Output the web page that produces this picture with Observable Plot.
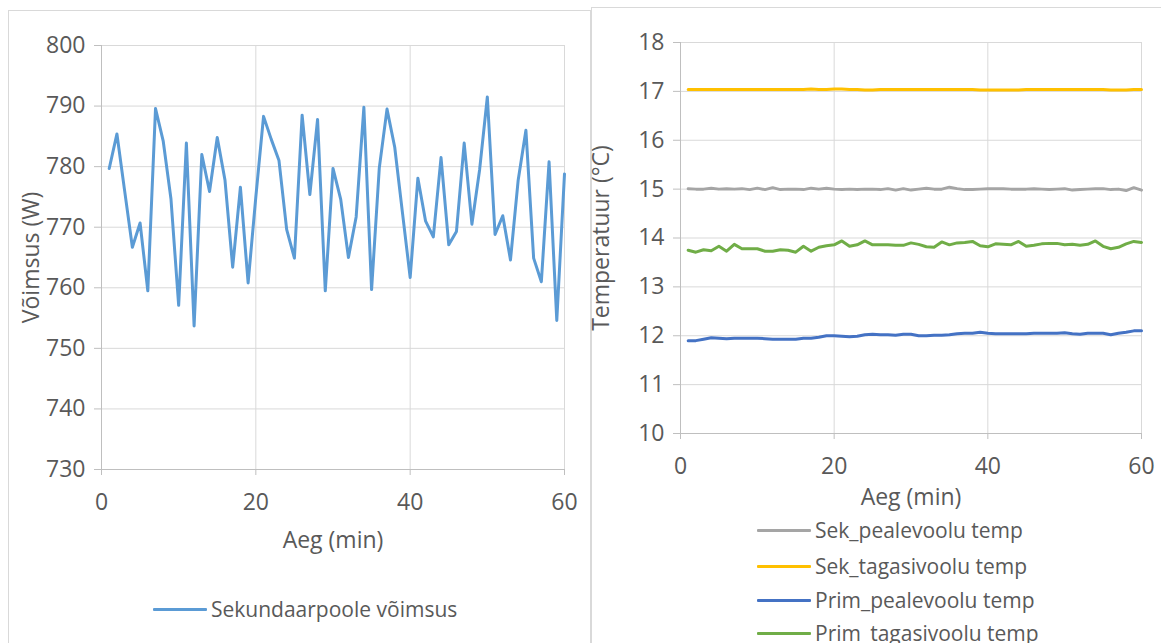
<!DOCTYPE html>
<html>
<head>
<meta charset="utf-8">
<script src="https://cdn.jsdelivr.net/npm/d3@7"></script>
<script src="https://cdn.jsdelivr.net/npm/@observablehq/plot@0.6"></script>
<style>
  html, body { margin: 0; padding: 0; background: #fff; }
  body { width: 1161px; height: 643px; overflow: hidden; position: relative; font-family: "Open Sans", sans-serif; color: #595959; }
  .panel { position: absolute; border: 1px solid #d9d9d9; background: #fff; box-sizing: border-box; }
  #p1 { left: 8px; top: 10px; width: 583px; height: 660px; }
  #p2 { left: 591px; top: 7px; width: 600px; height: 660px; }
  .chart { position: absolute; top: 0; }
  #c1 { left: 0; }
  #c2 { left: 590px; }
  .legend { position: absolute; font-size: 21px; color: #595959; }
  .item { position: absolute; display: flex; align-items: center; white-space: nowrap; height: 30px; }
  .swatch { width: 54px; height: 3px; margin-right: 4px; border-radius: 1px; }
</style>
</head>
<body>
<div class="panel" id="p1"></div>
<div class="panel" id="p2"></div>
<div class="chart" id="c1"></div>
<div class="chart" id="c2"></div>
<div class="legend" id="leg1"></div>
<div class="legend" id="leg2"></div>
<script>
// ---------- data ----------
const minutes = [1,2,3,4,5,6,7,8,9,10,11,12,13,14,15,16,17,18,19,20,
  21,22,23,24,25,26,27,28,29,30,31,32,33,34,35,36,37,38,39,40,
  41,42,43,44,45,46,47,48,49,50,51,52,53,54,55,56,57,58,59,60];

const powerW = [779.7,785.4,776.0,766.7,770.7,759.5,789.6,784.2,774.7,757.1,
  783.9,753.7,782.0,775.9,784.8,777.8,763.4,776.6,760.8,775.0,
  788.3,784.5,781.0,769.6,764.9,788.5,775.4,787.8,759.5,779.7,
  774.6,765.0,771.7,789.8,759.7,779.8,789.5,783.2,772.4,761.7,
  778.1,771.0,768.4,781.5,767.1,769.3,783.9,770.5,779.5,791.5,
  768.8,771.9,764.6,777.8,786.0,764.9,761.0,780.8,754.6,778.8];

const sekPealevoolu = [15.01,15.00,15.00,15.02,15.00,15.01,15.00,15.01,14.99,15.02,
  14.99,15.03,14.99,15.00,15.00,14.99,15.02,15.00,15.02,15.00,
  14.99,15.00,14.99,15.00,15.00,14.99,15.01,14.98,15.01,14.98,
  15.00,15.02,15.00,15.00,15.04,15.01,14.99,14.99,15.00,15.01,
  15.01,15.01,15.00,15.00,15.00,15.01,15.00,14.99,15.00,15.01,
  14.98,14.99,15.00,15.01,15.01,14.99,15.00,14.97,15.03,14.98];

const sekTagasivoolu = [17.04,17.04,17.04,17.04,17.04,17.04,17.04,17.04,17.04,17.04,
  17.04,17.04,17.04,17.04,17.04,17.04,17.05,17.04,17.04,17.05,
  17.05,17.04,17.04,17.03,17.03,17.04,17.04,17.04,17.04,17.04,
  17.04,17.04,17.04,17.04,17.04,17.04,17.04,17.04,17.03,17.03,
  17.03,17.03,17.03,17.03,17.04,17.04,17.04,17.04,17.04,17.04,
  17.04,17.04,17.04,17.04,17.04,17.03,17.03,17.03,17.04,17.04];

const primPealevoolu = [11.90,11.90,11.93,11.96,11.95,11.94,11.95,11.95,11.95,11.95,
  11.94,11.93,11.93,11.93,11.93,11.95,11.95,11.97,12.00,12.00,
  11.99,11.98,11.99,12.02,12.03,12.02,12.02,12.01,12.03,12.03,
  12.00,12.00,12.01,12.01,12.02,12.04,12.05,12.05,12.07,12.05,
  12.04,12.04,12.04,12.04,12.04,12.05,12.05,12.05,12.05,12.06,
  12.04,12.03,12.05,12.05,12.05,12.02,12.05,12.07,12.10,12.10];

const primTagasivoolu = [13.75,13.71,13.76,13.74,13.83,13.73,13.87,13.78,13.78,13.78,
  13.73,13.73,13.76,13.75,13.71,13.83,13.73,13.81,13.84,13.86,
  13.94,13.83,13.86,13.94,13.86,13.86,13.86,13.85,13.85,13.90,
  13.87,13.82,13.81,13.92,13.86,13.90,13.91,13.93,13.84,13.82,
  13.88,13.87,13.86,13.93,13.83,13.85,13.88,13.89,13.89,13.86,
  13.87,13.85,13.87,13.94,13.83,13.78,13.81,13.88,13.93,13.91];

const timeTicks = [0, 20, 40, 60];
const powerTicks = [730, 740, 750, 760, 770, 780, 790, 800];
const tempTicks = [10, 11, 12, 13, 14, 15, 16, 17, 18];

const powerName = "Sekundaarpoole võimsus";
const powerColor = "#5b9bd5";
const seriesNames = ["Sek_pealevoolu temp", "Sek_tagasivoolu temp", "Prim_pealevoolu temp", "Prim_tagasivoolu temp"];
const seriesColors = ["#a5a5a5", "#ffc000", "#4472c4", "#70ad47"];
const tempSeries = [sekPealevoolu, sekTagasivoolu, primPealevoolu, primTagasivoolu];

const xTitle = "Aeg (min)";
const powerTitle = "Võimsus (W)";
const tempTitle = "Temperatuur (°C)";

// ---------- tables ----------
const powerData = minutes.map((m, i) => ({m, w: powerW[i]}));
const tempData = tempSeries.flatMap((arr, s) => arr.map((v, i) => ({m: minutes[i], t: v, s: seriesNames[s]})));

const gridColor = "#d9d9d9";
const axisColor = "#bfbfbf";
const textColor = "#595959";
const style = {fontFamily: "'Open Sans', sans-serif", fontSize: "23px", color: textColor, background: "transparent", overflow: "visible"};

function frameMarks(xTicks, yTicks, xMin, yMin, yTitle, yTitleDx, xTitleDy) {
  return [
    Plot.gridX(xTicks.filter(d => d !== xMin), {stroke: gridColor, strokeOpacity: 1}),
    Plot.gridY(yTicks.filter(d => d !== yMin), {stroke: gridColor, strokeOpacity: 1}),
    Plot.ruleX([xMin], {stroke: axisColor}),
    Plot.ruleY([yMin], {stroke: axisColor}),
    Plot.axisX(xTicks, {tickSize: 6, tickPadding: 18, stroke: axisColor, fill: textColor, label: null}),
    Plot.axisY(yTicks, {tickSize: 7, tickPadding: 9, stroke: axisColor, fill: textColor, label: null}),
    Plot.text([xTitle], {text: d => d, frameAnchor: "bottom", textAnchor: "middle", lineAnchor: "middle", dy: xTitleDy, fill: textColor}),
    Plot.text([yTitle], {text: d => d, frameAnchor: "left", textAnchor: "middle", lineAnchor: "middle", dx: yTitleDx, rotate: -90, fill: textColor})
  ];
}

const chart1 = Plot.plot({
  width: 590, height: 560,
  marginLeft: 101, marginRight: 26, marginTop: 45, marginBottom: 91,
  style,
  x: {domain: [0, 60]},
  y: {domain: [730, 800]},
  marks: [
    ...frameMarks(timeTicks, powerTicks, 0, 730, powerTitle, -70, 71),
    Plot.line(powerData, {x: "m", y: "w", stroke: powerColor, strokeWidth: 3, strokeLinejoin: "round", strokeLinecap: "round"})
  ]
});
document.getElementById("c1").appendChild(chart1);

const chart2 = Plot.plot({
  width: 571, height: 500,
  marginLeft: 90, marginRight: 20, marginTop: 42, marginBottom: 67,
  style,
  x: {domain: [0, 60]},
  y: {domain: [10, 18]},
  color: {domain: seriesNames, range: seriesColors},
  marks: [
    ...frameMarks(timeTicks, tempTicks, 0, 10, tempTitle, -79, 64),
    Plot.line(tempData, {x: "m", y: "t", z: "s", stroke: "s", strokeWidth: 3, strokeLinejoin: "round", strokeLinecap: "round"})
  ]
});
document.getElementById("c2").appendChild(chart2);

// ---------- legends ----------
function addItem(container, name, color, left, top) {
  const it = document.createElement("div");
  it.className = "item";
  it.style.left = left + "px";
  it.style.top = top + "px";
  const sw = document.createElement("div");
  sw.className = "swatch";
  sw.style.background = color;
  const tx = document.createElement("span");
  tx.textContent = name;
  it.appendChild(sw);
  it.appendChild(tx);
  container.appendChild(it);
}
const leg1 = document.getElementById("leg1");
addItem(leg1, powerName, powerColor, 153, 594);
const leg2 = document.getElementById("leg2");
const rowTops = [515, 551, 585, 618];
seriesNames.forEach((n, i) => addItem(leg2, n, seriesColors[i], 757, rowTops[i]));
</script>
</body>
</html>
